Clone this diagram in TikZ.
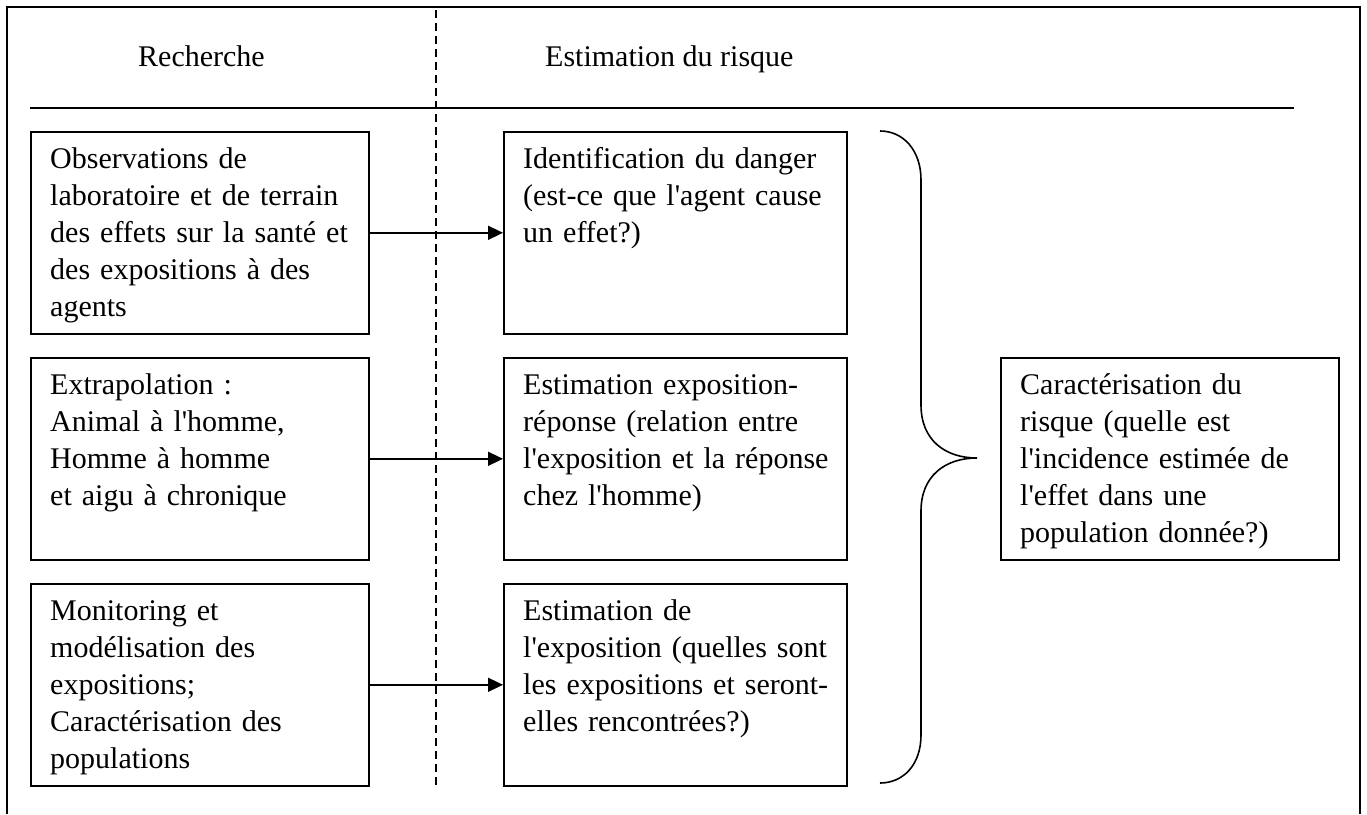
\documentclass[tikz,border=0pt]{standalone}
\usepackage{fontspec}
\setmainfont{Liberation Serif}[Ligatures=TeXOff]
\usetikzlibrary{arrows.meta,calc}
\begin{document}
\begin{tikzpicture}[x=1pt,y=-1pt,
  boxnode/.style={draw,line width=1.6pt,rectangle,inner sep=0pt,anchor=north west},
  txt/.style={anchor=base west,inner sep=0pt,align=left,text width=330pt,font=\fontsize{30}{37}\selectfont},
  head/.style={anchor=base west,inner sep=0pt,font=\fontsize{30}{37}\selectfont},
  arr/.style={line width=1.6pt,-{Triangle[length=15pt,width=14pt]}},
  leftbox/.style={boxnode,minimum width=338pt,minimum height=202pt},
  midbox/.style={boxnode,minimum width=343pt,minimum height=202pt}]
\useasboundingbox (0,0) rectangle (1367,814);
% frame (open at the bottom)
\coordinate (fbl) at (7,814);
\coordinate (ftl) at (7,7);
\coordinate (ftr) at (1360,7);
\coordinate (fbr) at (1360,814);
\draw[line width=1.8pt] (fbl) -- (ftl) -- (ftr) -- (fbr);
% headers
\node[head] (hrech) at (138,66) {Recherche};
\node[head] (hest) at (545,66) {Estimation du risque};
\coordinate (hl1) at (30,108);
\coordinate (hl2) at (1294,108);
\draw[line width=1.4pt] (hl1) -- (hl2);
\coordinate (d1) at (436,10);
\coordinate (d2) at (436,785);
\draw[line width=1.4pt,dash pattern=on 8pt off 5pt] (d1) -- (d2);
% left column
\node[leftbox] (l1) at (30,131) {};
\node[leftbox] (l2) at (30,357) {};
\node[leftbox] (l3) at (30,583) {};
\node[txt] (tl1) at ($(l1.north west)+(20,37)$) {Observations de\\laboratoire et de terrain\\des effets sur la santé et\\des expositions à des\\agents};
\node[txt] (tl2) at ($(l2.north west)+(20,37)$) {Extrapolation :\\Animal à l'homme,\\Homme à homme\\et aigu à chronique};
\node[txt] (tl3) at ($(l3.north west)+(20,37)$) {Monitoring et\\modélisation des\\expositions;\\Caractérisation des\\populations};
% middle column
\node[midbox] (m1) at (503,131) {};
\node[midbox] (m2) at (503,357) {};
\node[midbox] (m3) at (503,583) {};
\node[txt] (tm1) at ($(m1.north west)+(20,37)$) {Identification du danger\\(est-ce que l'agent cause\\un effet?)};
\node[txt] (tm2) at ($(m2.north west)+(20,37)$) {Estimation exposition-\\réponse (relation entre\\l'exposition et la réponse\\chez l'homme)};
\node[txt] (tm3) at ($(m3.north west)+(20,37)$) {Estimation de\\l'exposition (quelles sont\\les expositions et seront-\\elles rencontrées?)};
% arrows
\draw[arr] (l1.east) -- (m1.west);
\draw[arr] (l2.east) -- (m2.west);
\draw[arr] (l3.east) -- (m3.west);
% right box
\node[boxnode,minimum width=338pt,minimum height=202pt] (r) at (1000,357) {};
\node[txt] (tr) at ($(r.north west)+(20,37)$) {Caractérisation du\\risque (quelle est\\l'incidence estimée de\\l'effet dans une\\population donnée?)};
% brace
\coordinate (btop) at (880,131);
\coordinate (btip) at (977,458);
\coordinate (bbot) at (880,783);
\draw[line width=1.6pt] (btop) .. controls (903,131) and (921,150) .. (921,180)
  -- (921,405) .. controls (921,440) and (945,458) .. (btip)
  .. controls (945,458) and (921,476) .. (921,511)
  -- (921,735) .. controls (921,765) and (903,783) .. (bbot);
\end{tikzpicture}
\end{document}
